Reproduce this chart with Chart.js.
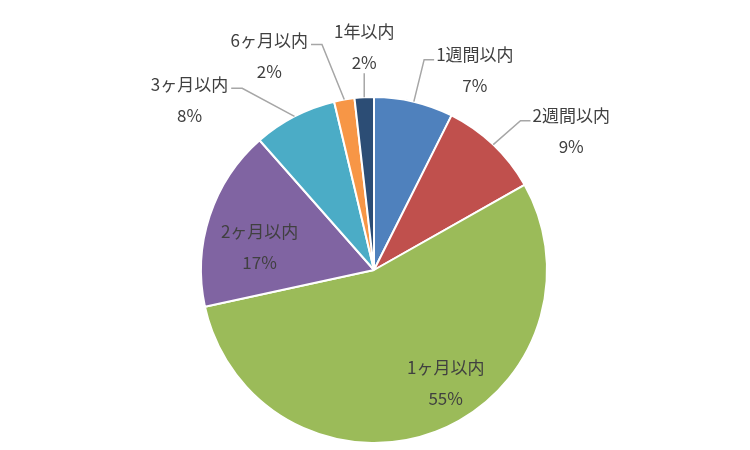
<!DOCTYPE html>
<html>
<head>
<meta charset="utf-8">
<script src="https://cdn.jsdelivr.net/npm/chart.js@4.4.1/dist/chart.umd.min.js"></script>
<style>
  html, body { margin: 0; padding: 0; background: #fff; }
  #wrap { width: 750px; height: 450px; }
</style>
</head>
<body>
<div id="wrap"><canvas id="chart" width="750" height="450"></canvas></div>
<script>
const categories = ['1週間以内', '2週間以内', '1ヶ月以内', '2ヶ月以内', '3ヶ月以内', '6ヶ月以内', '1年以内'];
const shares = [7.4, 9.4, 54.8, 16.9, 7.8, 1.9, 1.8];
const sliceColors = ['#4F81BD', '#C0504D', '#9BBB59', '#8064A2', '#4BACC6', '#F79646', '#2C4D75'];

// label placement: offset of the name line from the slice's outer mid point, inside = no leader line
const labelLayout = [
    { dx: 61, dy: -47, inside: false },
    { dx: 78, dy: -29, inside: false },
    { dx: 10, dy: -64, inside: true },
    { dx: 50, dy: 16, inside: true },
    { dx: -105, dy: -32, inside: false },
    { dx: -75, dy: -59, inside: false },
    { dx: 0, dy: -66, inside: false },
];

const FONT = '17px "Noto Sans CJK JP", "Noto Sans", sans-serif';
const LINE_GAP = 31;

const pieLabels = {
    id: 'pieLabels',
    afterDraw(chart) {
        const ctx = chart.ctx;
        const arcs = chart.getDatasetMeta(0).data;
        ctx.save();
        ctx.font = FONT;
        ctx.textAlign = 'center';
        ctx.textBaseline = 'middle';
        arcs.forEach((arc, i) => {
            const p = arc.getProps(['x', 'y', 'startAngle', 'endAngle', 'outerRadius'], true);
            const mid = (p.startAngle + p.endAngle) / 2;
            const ax = p.x + Math.cos(mid) * p.outerRadius;
            const ay = p.y + Math.sin(mid) * p.outerRadius;
            const lay = labelLayout[i];
            const tx = ax + lay.dx;
            const ty = ay + lay.dy;
            const name = categories[i];
            const pct = Math.round(shares[i]) + '%';

            if (!lay.inside) {
                const w = ctx.measureText(name).width;
                ctx.strokeStyle = '#A6A6A6';
                ctx.lineWidth = 1.5;
                ctx.beginPath();
                ctx.moveTo(ax, ay);
                if (Math.abs(lay.dx) < 10) {
                    ctx.lineTo(ax, ty + LINE_GAP + 11);
                } else if (lay.dx > 0) {
                    const left = tx - w / 2;
                    ctx.lineTo(left - 12, ty + 5);
                    ctx.lineTo(left - 2, ty + 5);
                } else {
                    const right = tx + w / 2;
                    ctx.lineTo(right + 14, ty + 4);
                    ctx.lineTo(right + 3, ty + 4);
                }
                ctx.stroke();
            }

            ctx.fillStyle = '#404040';
            ctx.fillText(name, tx, ty);
            ctx.fillText(pct, tx, ty + LINE_GAP);
        });
        ctx.restore();
    }
};

new Chart(document.getElementById('chart'), {
    type: 'pie',
    data: {
        labels: categories,
        datasets: [{
            data: shares,
            backgroundColor: sliceColors,
            borderColor: '#ffffff',
            borderWidth: 2,
        }],
    },
    options: {
        responsive: false,
        animation: false,
        layout: {
            padding: { top: 96, bottom: 6, left: 0, right: 2 },
        },
        plugins: {
            legend: { display: false },
            tooltip: { enabled: false },
        },
    },
    plugins: [pieLabels],
});
</script>
</body>
</html>
